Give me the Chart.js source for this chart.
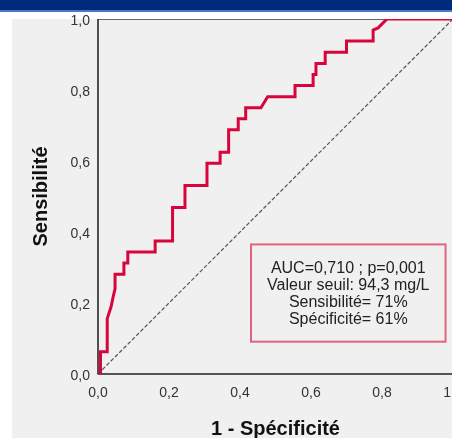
<!DOCTYPE html>
<html>
<head>
<meta charset="utf-8">
<script src="https://cdn.jsdelivr.net/npm/chart.js@4.4.1/dist/chart.umd.min.js"></script>
<style>
  html, body { margin: 0; padding: 0; width: 452px; height: 438px; overflow: hidden; background: #fff; }
  #header { position: absolute; left: 0; top: 0; width: 452px; height: 10px; background: #002a7a; }
  #headerLine { position: absolute; left: 0; top: 10px; width: 452px; height: 2px; background: #4a78c8; }
  #panel { position: absolute; left: 12px; top: 19px; right: 0; bottom: 0; background: #f0f0f0; }
  #roc { position: absolute; left: 0; top: 0; }
</style>
</head>
<body>
<div id="header"></div>
<div id="headerLine"></div>
<div id="panel"></div>
<canvas id="roc" width="460" height="438"></canvas>
<script>
// Courbe ROC (1 - spécificité, sensibilité)
const fpr = [0, 0.007, 0.007, 0.026, 0.026, 0.037, 0.043, 0.048, 0.048, 0.073, 0.073, 0.084, 0.084,
  0.161, 0.161, 0.21, 0.21, 0.245, 0.245, 0.307, 0.307, 0.344, 0.344, 0.368, 0.368, 0.395, 0.395,
  0.416, 0.416, 0.459, 0.478, 0.555, 0.555, 0.606, 0.606, 0.614, 0.614, 0.64, 0.64, 0.70, 0.70,
  0.775, 0.775, 0.789, 0.814, 1];
const tpr = [0, 0, 0.0625, 0.0625, 0.156, 0.19, 0.219, 0.24, 0.281, 0.281, 0.313, 0.313, 0.344,
  0.344, 0.375, 0.375, 0.469, 0.469, 0.531, 0.531, 0.594, 0.594, 0.625, 0.625, 0.688, 0.688, 0.719,
  0.719, 0.75, 0.75, 0.781, 0.781, 0.813, 0.813, 0.844, 0.844, 0.875, 0.875, 0.906, 0.906, 0.938,
  0.938, 0.969, 0.975, 1, 1];
const refLine = [0, 1];

const tickValues = [0, 0.2, 0.4, 0.6, 0.8, 1];
const tickLabels = ["0,0", "0,2", "0,4", "0,6", "0,8", "1,0"];

const boxLines = ["AUC=0,710 ; p=0,001", "Valeur seuil: 94,3 mg/L", "Sensibilité= 71%", "Spécificité= 61%"];
const boxRange = { x0: 0.431, x1: 0.979, y0: 0.365, y1: 0.091 };

const FONT = "'Liberation Sans', Arial, sans-serif";

// cadre du graphique
const frame = {
  id: "frame",
  beforeDatasetsDraw(chart) {
    const { ctx, chartArea: a } = chart;
    ctx.save();
    ctx.strokeStyle = "#666";
    ctx.lineWidth = 1;
    ctx.strokeRect(a.left, a.top + 0.5, a.right - a.left, a.bottom - a.top);
    ctx.strokeStyle = "#333";
    ctx.lineWidth = 1.5;
    ctx.beginPath();
    ctx.moveTo(a.left, a.top);
    ctx.lineTo(a.left, a.bottom);
    ctx.stroke();
    ctx.strokeStyle = "#555";
    ctx.lineWidth = 2;
    ctx.beginPath();
    ctx.moveTo(a.left, a.bottom);
    ctx.lineTo(a.right, a.bottom);
    ctx.stroke();
    ctx.restore();
  },
};

// encadré AUC
const infoBox = {
  id: "infoBox",
  afterDatasetsDraw(chart) {
    const { ctx, scales: { x, y } } = chart;
    const l = x.getPixelForValue(boxRange.x0);
    const r = x.getPixelForValue(boxRange.x1);
    const t = y.getPixelForValue(boxRange.y0);
    const b = y.getPixelForValue(boxRange.y1);
    ctx.save();
    ctx.fillStyle = "#f0f0f0";
    ctx.fillRect(l, t, r - l, b - t);
    ctx.strokeStyle = "#e0647f";
    ctx.lineWidth = 2;
    ctx.strokeRect(l, t, r - l, b - t);
    ctx.fillStyle = "#222";
    ctx.font = "16px " + FONT;
    ctx.textAlign = "center";
    ctx.textBaseline = "middle";
    const cx = (l + r) / 2;
    boxLines.forEach((s, i) => ctx.fillText(s, cx, t + 24 + i * 17));
    ctx.restore();
  },
};

const points = fpr.map((v, i) => ({ x: v, y: tpr[i] }));

new Chart(document.getElementById("roc").getContext("2d"), {
  type: "line",
  data: {
    datasets: [
      {
        data: points,
        borderColor: "#d8043c",
        borderWidth: 3,
        pointRadius: 0,
        tension: 0,
        borderJoinStyle: "miter",
      },
      {
        data: refLine.map((v) => ({ x: v, y: v })),
        borderColor: "#555",
        borderWidth: 1.2,
        borderDash: [4, 2],
        pointRadius: 0,
      },
    ],
  },
  options: {
    responsive: false,
    devicePixelRatio: 1,
    animation: false,
    layout: { padding: { top: 19, right: 7, left: 0, bottom: 0 } },
    plugins: { legend: { display: false }, tooltip: { enabled: false } },
    scales: {
      x: {
        type: "linear",
        min: 0,
        max: 1,
        grid: { display: false, drawTicks: false },
        border: { display: false },
        afterFit: (s) => { s.height = 64; s.paddingLeft = 0; s.paddingRight = 0; },
        afterBuildTicks: (s) => { s.ticks = tickValues.map((v) => ({ value: v })); },
        ticks: {
          padding: 11,
          color: "#333",
          font: { family: FONT, size: 14 },
          maxRotation: 0,
          callback: (v, i) => tickLabels[i],
        },
        title: {
          display: true,
          text: "1 - Spécificité",
          color: "#111",
          font: { family: FONT, size: 20, weight: "bold", lineHeight: 1 },
          padding: { top: 0, bottom: -1 },
        },
      },
      y: {
        type: "linear",
        min: 0,
        max: 1,
        grid: { display: false, drawTicks: false },
        border: { display: false },
        afterFit: (s) => { s.width = 98; s.paddingTop = 0; s.paddingBottom = 0; },
        afterBuildTicks: (s) => { s.ticks = tickValues.map((v) => ({ value: v })); },
        ticks: {
          padding: 8,
          labelOffset: 2,
          color: "#333",
          font: { family: FONT, size: 14 },
          callback: (v, i) => tickLabels[i],
        },
        title: {
          display: true,
          text: "Sensibilité",
          color: "#111",
          font: { family: FONT, size: 20, weight: "bold", lineHeight: 1 },
          padding: { top: 31, bottom: 0 },
        },
      },
    },
  },
  plugins: [frame, infoBox],
});
</script>
</body>
</html>
